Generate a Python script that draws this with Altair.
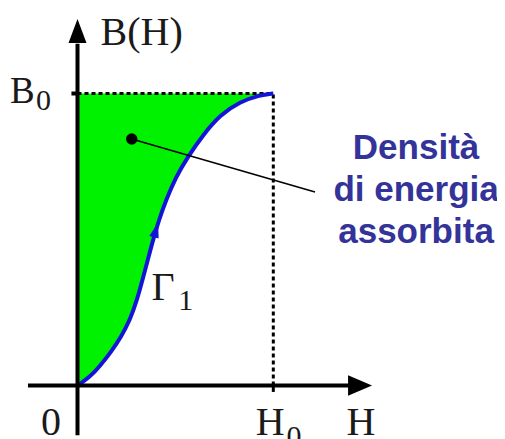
import altair as alt
import pandas as pd

# Curve Gamma_1 : B(H), normalised so H0 = 1, B0 = 1
curve_H = [0.0, 0.0638, 0.1149, 0.1711, 0.2222, 0.2681, 0.3039, 0.3345, 0.3601, 0.3856,
           0.4162, 0.4520, 0.5031, 0.5593, 0.6410, 0.7278, 0.8299, 0.9321, 1.0]
curve_B = [0.0, 0.0291, 0.0668, 0.1147, 0.1661, 0.2243, 0.2928, 0.3682, 0.4332, 0.4983,
           0.5668, 0.6353, 0.7140, 0.7791, 0.8579, 0.9264, 0.9719, 0.9949, 1.0]

H0 = 1.0
B0 = 1.0

# axes extents (data units)
xaxis_from, xaxis_to = -0.253, 1.40
yaxis_from, yaxis_to = -0.170, 1.17

# annotation positions (data units)
label_text = ["B(H)", "B", "0", "0", "H", "0", "H", "Γ", "1"]
label_H = [0.118, -0.345, -0.212, -0.186, 0.910, 1.068, 1.374, 0.378, 0.514]
label_B = [1.166, 0.966, 0.945, -0.170, -0.170, -0.206, -0.170, 0.293, 0.259]
label_size = [40, 37, 30, 40, 40, 30, 40, 40, 30]

note_lines = ["Densità", "di energia", "assorbita"]
note_H = [1.729, 1.729, 1.729]
note_B = [0.775, 0.632, 0.488]

dot_H, dot_B = 0.277, 0.844
leader_end_H, leader_end_B = 1.213, 0.663

arrow_curve_H, arrow_curve_B = 0.401, 0.5325

XDOM = [-0.355, 2.1425]
YDOM = [-0.1832, 1.2928]


def X(field="H", **kw):
    return alt.X(field, type="quantitative", scale=alt.Scale(domain=XDOM, nice=False, zero=False), axis=None, **kw)


def Y(field="B", **kw):
    return alt.Y(field, type="quantitative", scale=alt.Scale(domain=YDOM, nice=False, zero=False), axis=None, **kw)


curve = pd.DataFrame({"H": curve_H, "B": curve_B})
curve["top"] = B0

area = alt.Chart(curve).mark_area(color="#00f200", interpolate="basis", orient="vertical", opacity=1).encode(
    x=X(), y=Y(), y2=alt.Y2("top"))
line = alt.Chart(curve).mark_line(color="#1414d8", strokeWidth=4, interpolate="basis").encode(
    x=X(), y=Y())

dots_h = pd.DataFrame({"H": [0.0], "H2": [H0], "B": [B0]})
dots_v = pd.DataFrame({"H": [H0], "B": [0.0], "B2": [B0]})
dot_h = alt.Chart(dots_h).mark_rule(color="black", strokeWidth=3, strokeDash=[4, 3]).encode(
    x=X(), x2=alt.X2("H2"), y=Y())
dot_v = alt.Chart(dots_v).mark_rule(color="black", strokeWidth=3, strokeDash=[4, 3]).encode(
    x=X(), y=Y(), y2=alt.Y2("B2"))

ax_x = alt.Chart(pd.DataFrame({"H": [xaxis_from], "H2": [xaxis_to], "B": [0.0]})).mark_rule(
    color="black", strokeWidth=4).encode(x=X(), x2=alt.X2("H2"), y=Y())
ax_y = alt.Chart(pd.DataFrame({"H": [0.0], "B": [yaxis_from], "B2": [yaxis_to]})).mark_rule(
    color="black", strokeWidth=4).encode(x=X(), y=Y(), y2=alt.Y2("B2"))

tick_y = alt.Chart(pd.DataFrame({"H": [-0.031], "H2": [0.0], "B": [B0]})).mark_rule(
    color="black", strokeWidth=4).encode(x=X(), x2=alt.X2("H2"), y=Y())
tick_x = alt.Chart(pd.DataFrame({"H": [H0], "B": [-0.022], "B2": [0.0]})).mark_rule(
    color="black", strokeWidth=3).encode(x=X(), y=Y(), y2=alt.Y2("B2"))

head_x = alt.Chart(pd.DataFrame({"H": [1.443], "B": [0.0]})).mark_point(
    shape="M 1 0 L -1 -0.85 L -1 0.85 Z", size=576, filled=True, color="black", opacity=1).encode(x=X(), y=Y())
head_y = alt.Chart(pd.DataFrame({"H": [0.0], "B": [1.214]})).mark_point(
    shape="M 0 -1 L 0.75 1 L -0.75 1 Z", size=576, filled=True, color="black", opacity=1).encode(x=X(), y=Y())
head_c = alt.Chart(pd.DataFrame({"H": [arrow_curve_H], "B": [arrow_curve_B]})).mark_point(
    shape="M 0 -1 L 0.65 1 L -0.65 1 Z", size=225, filled=True, color="#1414d8", opacity=1, angle=16).encode(x=X(), y=Y())

leader = alt.Chart(pd.DataFrame({"H": [dot_H], "H2": [leader_end_H], "B": [dot_B], "B2": [leader_end_B]})).mark_rule(
    color="black", strokeWidth=1.6).encode(x=X(), x2=alt.X2("H2"), y=Y(), y2=alt.Y2("B2"))
dot = alt.Chart(pd.DataFrame({"H": [dot_H], "B": [dot_B]})).mark_circle(
    color="black", size=130, opacity=1).encode(x=X(), y=Y())

labels = pd.DataFrame({"t": label_text, "H": label_H, "B": label_B, "s": label_size})
lab = alt.Chart(labels).mark_text(
    font="Liberation Serif", align="left", baseline="alphabetic", color="#1a1a1a").encode(
    x=X(), y=Y(), text="t:N", size=alt.Size("s:Q", scale=None, legend=None))

notes = pd.DataFrame({"t": note_lines, "H": note_H, "B": note_B})
note = alt.Chart(notes).mark_text(
    font="Liberation Sans", fontSize=35, fontWeight="bold", align="center", baseline="alphabetic",
    color="#333399").encode(x=X(), y=Y(), text="t:N")

chart = alt.layer(
    area, dot_h, dot_v, line, head_c, ax_x, ax_y, tick_y, tick_x, head_x, head_y,
    leader, dot, lab, note
).properties(
    width=489, height=431, padding=0, autosize="none", background="white"
).configure_view(strokeWidth=0)

chart.save("out.html", embed_options={"renderer": "svg", "actions": False})
